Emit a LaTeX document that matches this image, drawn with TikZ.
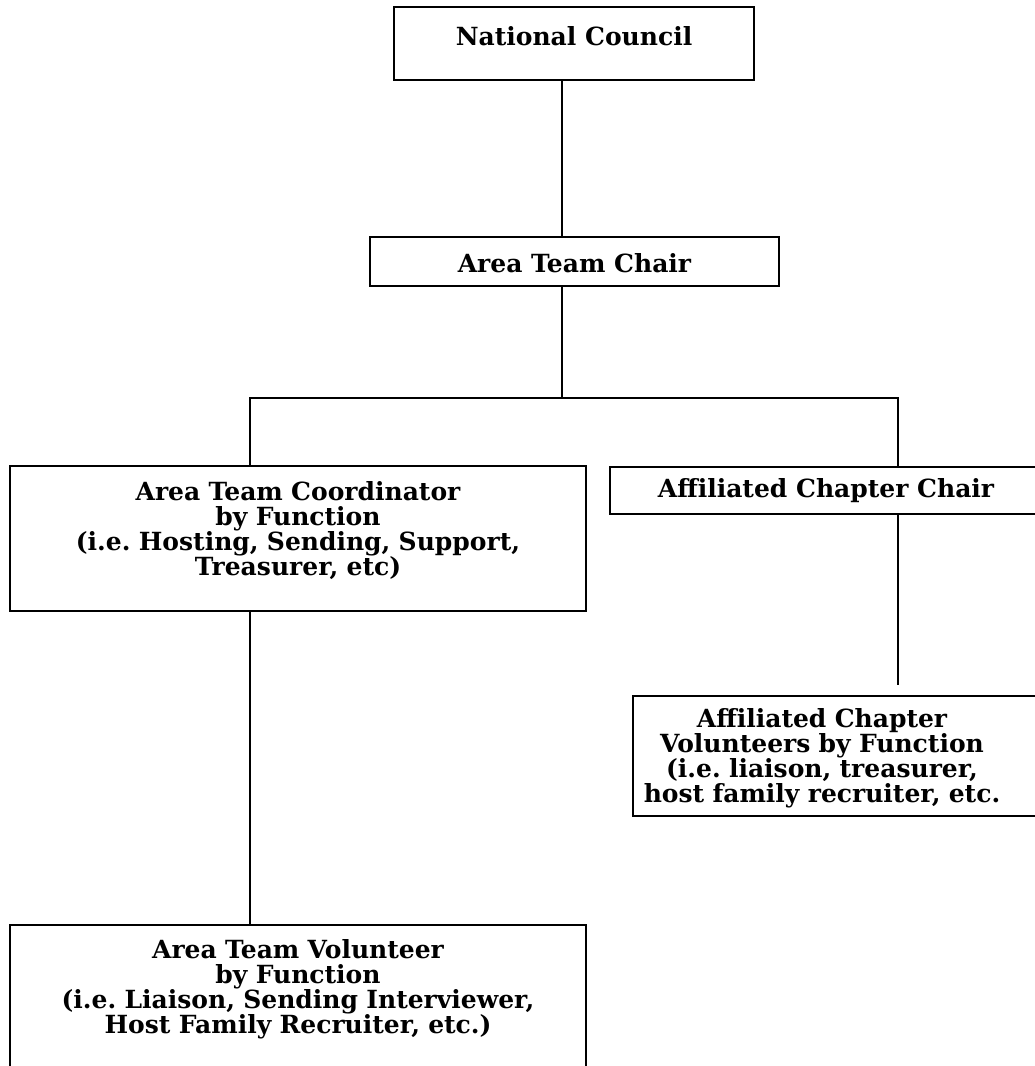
\documentclass[tikz,border=0pt]{standalone}
\usepackage{fontspec}
\setmainfont{DejaVu Serif}
\usepackage{tikz}
\usetikzlibrary{positioning, calc}
\tikzset{
  post/.style={rectangle, draw=black, fill=white, align=center,
    font=\bfseries\fontsize{25}{25}\selectfont, line width=1.4pt,
    inner sep=0pt},
  tallpost/.style={post, minimum height=#1},
  textoff/.style={execute at begin node={\leftskip=0pt plus 1fil\rightskip=#1 plus 1fil\parfillskip=0pt}},
  link/.style={line width=1.4pt, color=black}
}

\begin{document}
\frenchspacing
\begin{tikzpicture}[x=1pt, y=-1pt]
  \useasboundingbox (0,0) rectangle (1035,1066);
  \clip (0,0) rectangle (1035,1066);

  % posts
  \node[post, minimum width=360, minimum height=73, text depth=15] (nc) at (574,43.5) {National Council};
  \node[post, minimum width=409, minimum height=49, text height=22] (chair) at (574.5,261.5) {Area Team Chair};
  \node[tallpost=145, text width=576, text height=34, text depth=111] (coord) at (298,538.5) {Area Team Coordinator\\by Function\\(i.e. Hosting, Sending, Support,\\Treasurer, etc)};
  \node[tallpost=145, text width=576, text height=33, text depth=112] (vol) at (298,997.5) {Area Team Volunteer\\by Function\\(i.e. Liaison, Sending Interviewer,\\Host Family Recruiter, etc.)};
  \node[post, minimum width=432, minimum height=47] (affchair) at (826,490.5) {Affiliated Chapter Chair};
  \node[tallpost=120, text width=412, text height=31, text depth=89, textoff=34pt] (affvol) at (839,756) {Affiliated Chapter\\Volunteers by Function\\(i.e. liaison, treasurer,\\host family recruiter, etc.};

  % bus points
  \coordinate (trunk) at (562,398);
  \coordinate (busl) at (250,398);
  \coordinate (busr) at (898,398);
  \coordinate (stub) at (898,685);

  \draw[link] (nc.south -| trunk) -- (chair.north -| trunk);
  \draw[link] (chair.south -| trunk) -- (trunk);
  \draw[link] (coord.north -| busl) -- (busl) -- (busr) -- (affchair.north -| busr);
  \draw[link] (coord.south -| busl) -- (vol.north -| busl);
  \draw[link] (affchair.south -| busr) -- (stub);

\end{tikzpicture}
\end{document}
